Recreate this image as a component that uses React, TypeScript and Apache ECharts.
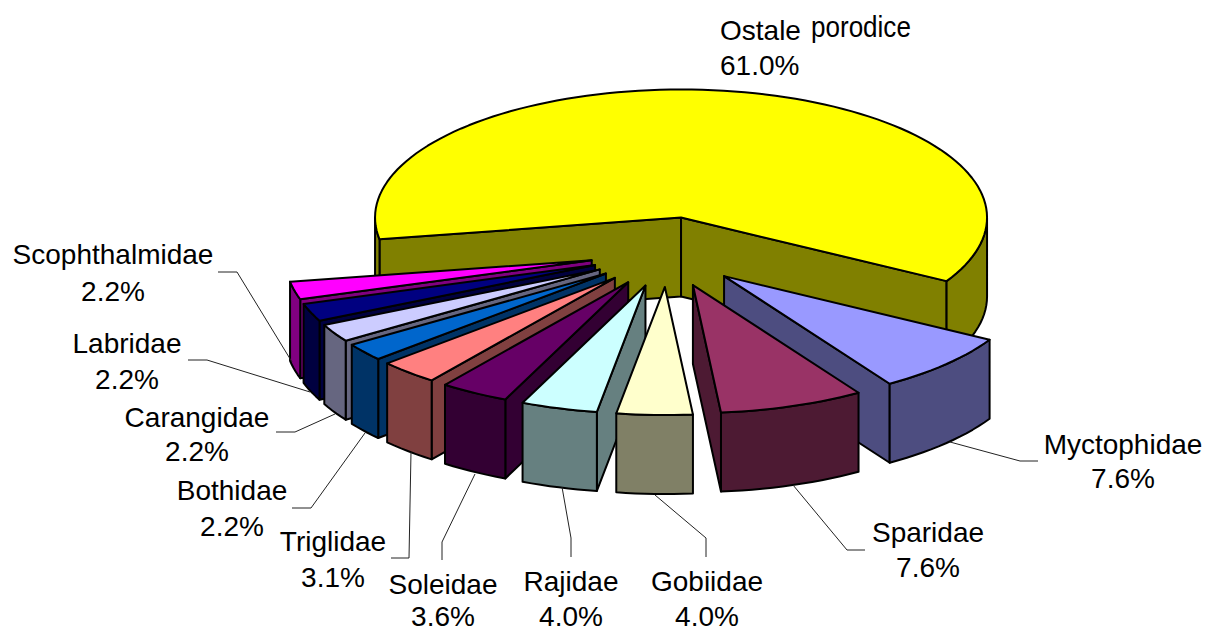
import React, { useEffect, useRef } from "react";
import * as echarts from "echarts";

const names = ["Ostale porodice", "Myctophidae", "Sparidae", "Gobiidae", "Rajidae", "Soleidae", "Triglidae", "Bothidae", "Carangidae", "Labridae", "Scophthalmidae"];
// percentages; the labels show them to one decimal
const values = [61.0, 7.62, 7.64, 4.0, 4.04, 3.64, 3.14, 2.24, 2.24, 2.24, 2.24];
const topColors = ["#FFFF00", "#9999FF", "#993366", "#FFFFCC", "#CCFFFF", "#660066", "#FF8080", "#0066CC", "#CCCCFF", "#000080", "#FF00FF"];
const sideColors = ["#808000", "#4D4D80", "#4D1A33", "#808066", "#668080", "#330033", "#804040", "#003366", "#666680", "#000040", "#800080"];
// back-to-front painting order of the slices
const paintOrder = [0, 1, 10, 9, 8, 7, 6, 5, 4, 3, 2];

// pie projection
const CX = 667.5, CY = 252, RX = 306, RY = 128, DEPTH = 79, EXPLODE_X = 78, EXPLODE_Y = 35, START_ANGLE = 260.2;

// label placement: [anchor x, first line y, second line y]
const labelPlaces: number[][] = [
  [0, 0, 0],
  [1123, 444, 478],
  [928, 532, 567],
  [707, 581, 616],
  [571, 581, 616],
  [443, 584, 616],
  [333, 541, 577],
  [232, 490, 526],
  [197, 417, 451],
  [127, 343, 379],
  [113, 254, 291],
];
const leaderLines: number[][][] = [
  [],
  [[1038, 461], [1020, 461], [950, 442]],
  [[865, 550], [847, 550], [793, 485]],
  [[706, 557], [706, 538], [655, 495]],
  [[571, 557], [571, 538], [562, 487]],
  [[442, 560], [442, 542], [475, 474]],
  [[391, 558], [409, 558], [411, 452]],
  [[292, 508], [311, 508], [365, 433]],
  [[276, 432], [295, 432], [335, 414]],
  [[188, 360], [207, 360], [310, 392]],
  [[218, 272], [237, 272], [292, 362]],
];

const rad = (d: number) => (d * Math.PI) / 180;

function sliceAngles(i: number) {
  let a = START_ANGLE;
  for (let k = 0; k < i; k++) a += (values[k] / 100) * 360;
  return [a, a + (values[i] / 100) * 360];
}

function renderSlice(_: any, api: any) {
  const i = api.value(1) as number;
  const [a, b] = sliceAngles(i);
  const mid = (a + b) / 2;
  const ax = CX + EXPLODE_X * Math.sin(rad(mid));
  const ay = CY - EXPLODE_Y * Math.cos(rad(mid));
  const pt = (t: number, dz = 0) => [ax + RX * Math.sin(rad(t)), ay - RY * Math.cos(rad(t)) + dz];
  const arc = (s: number, e: number, dz = 0) => {
    const n = Math.max(2, Math.ceil((e - s) / 2));
    const out: number[][] = [];
    for (let k = 0; k <= n; k++) out.push(pt(s + ((e - s) * k) / n, dz));
    return out;
  };
  const side = { fill: sideColors[i], stroke: "#000", lineWidth: 2, lineJoin: "round" };
  const kids: any[] = [];
  const cut = (t: number) => ({
    type: "polygon",
    shape: { points: [[ax, ay], pt(t), pt(t, DEPTH), [ax, ay + DEPTH]] },
    style: side,
  });
  if (Math.sin(rad(a)) < 0) kids.push(cut(a));
  if (Math.sin(rad(b)) > 0) kids.push(cut(b));
  for (let k = -1; k <= 1; k++) {
    const s = Math.max(a, 90 + 360 * k);
    const e = Math.min(b, 270 + 360 * k);
    if (e > s) {
      kids.push({
        type: "polygon",
        shape: { points: [...arc(s, e), ...arc(s, e, DEPTH).reverse()] },
        style: side,
      });
    }
  }
  kids.push({
    type: "polygon",
    shape: { points: [[ax, ay], ...arc(a, b)] },
    style: { fill: topColors[i], stroke: "#000", lineWidth: 2, lineJoin: "round" },
  });
  return { type: "group", children: kids };
}

const pct = (v: number) => v.toFixed(1) + "%";
const font = "Liberation Sans";
const textStyle = (text: string, align: string) => ({
  text,
  fill: "#000",
  fontFamily: font,
  fontSize: 28,
  align,
  verticalAlign: "middle",
});

function buildGraphics() {
  const g: any[] = [];
  leaderLines.forEach((pts) => {
    if (pts.length) {
      g.push({ type: "polyline", z: 20, shape: { points: pts }, style: { stroke: "#222", lineWidth: 1, fill: "none" } });
    }
  });
  labelPlaces.forEach((p, i) => {
    if (i === 0) return;
    g.push({ type: "text", z: 30, x: p[0], y: p[1], style: textStyle(names[i], "center") });
    g.push({ type: "text", z: 30, x: p[0], y: p[2], style: textStyle(pct(values[i]), "center") });
  });
  const [first, second] = names[0].split(" ");
  g.push({ type: "text", z: 30, x: 720, y: 30, style: textStyle(first, "left") });
  g.push({ type: "text", z: 30, x: 811, y: 27, scaleX: 0.93, scaleY: 1.05, style: textStyle(second, "left") });
  g.push({ type: "text", z: 30, x: 720, y: 65, style: textStyle(pct(values[0]), "left") });
  return g;
}

export default function App() {
  const ref = useRef<HTMLDivElement>(null);
  useEffect(() => {
    const chart = echarts.init(ref.current!, null, { renderer: "svg" });
    chart.setOption({
      animation: false,
      backgroundColor: "#fff",
      graphic: buildGraphics(),
      series: [
        {
          type: "custom",
          coordinateSystem: "none",
          silent: true,
          clip: false,
          renderItem: renderSlice,
          data: paintOrder.map((i) => ({ name: names[i], value: [values[i], i] })),
        },
      ],
    });
    return () => chart.dispose();
  }, []);
  return <div ref={ref} style={{ position: "fixed", left: 0, top: 0, width: 1206, height: 630 }} />;
}
